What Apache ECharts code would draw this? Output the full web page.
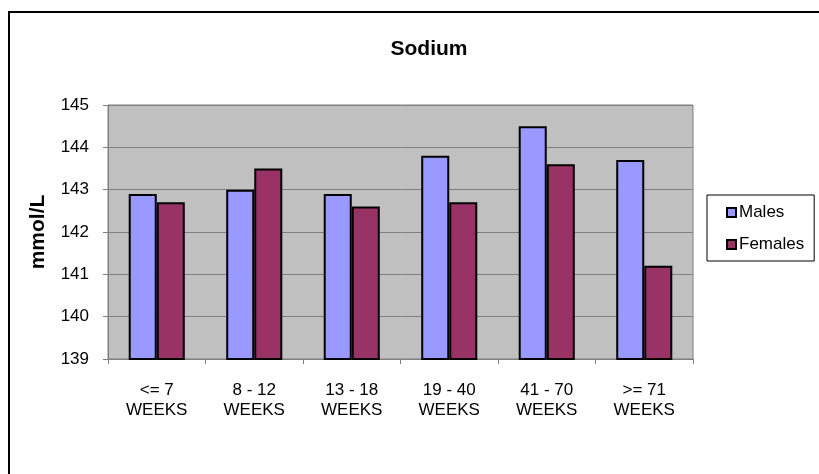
<!DOCTYPE html>
<html>
<head>
<meta charset="utf-8">
<script src="https://cdn.jsdelivr.net/npm/echarts@6/dist/echarts.min.js"></script>
<style>html,body{margin:0;padding:0;background:#fff}#c{width:819px;height:474px}</style>
</head>
<body>
<div id="c"></div>
<script>
const categories = ['<= 7\nWEEKS', '8 - 12\nWEEKS', '13 - 18\nWEEKS', '19 - 40\nWEEKS', '41 - 70\nWEEKS', '>= 71\nWEEKS'];
const males = [142.9, 143.0, 142.9, 143.8, 144.5, 143.7];
const females = [142.7, 143.5, 142.6, 142.7, 143.6, 141.2];
const yMin = 139, yMax = 145, yStep = 1;

const FONT = '"Liberation Sans", Arial, sans-serif';
const chart = echarts.init(document.getElementById('c'), null, {renderer: 'canvas'});
chart.setOption({
  backgroundColor: '#fff',
  animation: false,
  title: {
    text: 'Sodium', left: 424, top: 34, textAlign: 'center',
    textStyle: {fontFamily: FONT, fontSize: 21, fontWeight: 'bold', color: '#000'}
  },
  graphic: [{
    type: 'rect', shape: {x: 9, y: 12, width: 900, height: 600},
    style: {fill: 'none', stroke: '#000', lineWidth: 2}, z: -1
  }],
  legend: {
    orient: 'vertical', left: 707, top: 195,
    padding: [9, 10, 8, 19], itemGap: 15,
    itemWidth: 9, itemHeight: 9, icon: 'rect',
    borderColor: '#000', borderWidth: 1, backgroundColor: '#fff',
    textStyle: {fontFamily: FONT, fontSize: 17, color: '#000', padding: [0,0,0,-2]},
    data: ['Males', 'Females']
  },
  grid: {
    left: 108, right: 126, top: 105, bottom: 115,
    show: true, backgroundColor: '#c0c0c0', borderColor: '#808080', borderWidth: 1
  },
  xAxis: {
    type: 'category', data: categories,
    axisLine: {lineStyle: {color: '#808080', width: 1}},
    axisTick: {show: true, alignWithLabel: false, length: 5, lineStyle: {color: '#808080'}},
    axisLabel: {fontFamily: FONT, fontSize: 17, color: '#000', margin: 21, lineHeight: 20, interval: 0}
  },
  yAxis: {
    type: 'value', min: yMin, max: yMax, interval: yStep,
    name: 'mmol/L', nameLocation: 'middle', nameGap: 59, nameRotate: 90,
    nameTextStyle: {fontFamily: FONT, fontSize: 21, fontWeight: 'bold', color: '#000'},
    axisLine: {show: true, lineStyle: {color: '#808080', width: 1}},
    axisTick: {show: true, length: 5, inside: false, lineStyle: {color: '#808080'}},
    axisLabel: {fontFamily: FONT, fontSize: 17, color: '#000', margin: 19},
    splitLine: {show: true, lineStyle: {color: '#808080', width: 1}}
  },
  series: [
    {name: 'Males', type: 'bar', data: males, barGap: '0%', barCategoryGap: '42.5%',
     itemStyle: {color: '#9999ff', borderColor: '#000', borderWidth: 2}},
    {name: 'Females', type: 'bar', data: females, barGap: '0%', barCategoryGap: '42.5%',
     itemStyle: {color: '#993366', borderColor: '#000', borderWidth: 2}}
  ]
});
</script>
</body>
</html>
